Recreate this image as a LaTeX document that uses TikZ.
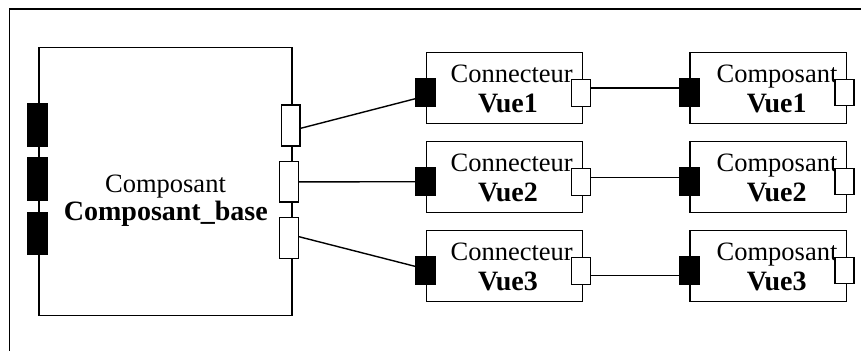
\documentclass[tikz,border=0pt]{standalone}
\usepackage{fontspec}
\setmainfont{Liberation Serif}
\begin{document}
\begin{tikzpicture}[x=1pt,y=-1pt,line width=1.4pt,
  comp/.style={draw,rectangle,inner sep=0pt,minimum width=#1},
  blk/.style={draw,fill=black,rectangle,inner sep=0pt,minimum width=19.5pt,minimum height=#1},
  wht/.style={draw,fill=white,rectangle,inner sep=0pt,minimum width=19pt,minimum height=#1},
  reg/.style={anchor=base,inner sep=0pt,font=\fontsize{26.5}{30}\selectfont},
  bld/.style={anchor=base,inner sep=0pt,font=\fontsize{28}{32}\bfseries},
  wire/.style={draw,line width=1.4pt}]
\useasboundingbox (0,0) rectangle (861,351);
% outer frame
\coordinate (fr1) at (861,9);
\coordinate (fr2) at (9.3,9);
\coordinate (fr3) at (9.3,351);
\draw (fr1) -- (fr2) -- (fr3);
% base component
\node[comp=253pt,minimum height=267.8pt] (base) at (165.5,181.6) {};
\node[reg] (baseT) at (165.5,192.3) {Composant};
\node[bld] (baseB) at (165.8,220.7) {Composant\_base};
\node[blk=42pt] (bl1) at (37.5,124.8) {};
\node[blk=42pt] (bl2) at (37.5,179) {};
\node[blk=41.5pt] (bl3) at (37.5,233.3) {};
\node[wht=41pt,minimum width=18.3pt] (bw1) at (290.8,125.5) {};
\node[wht=40.3pt] (bw2) at (288.8,181.9) {};
\node[wht=40.6pt] (bw3) at (288.8,238) {};
% rows
\foreach \i/\t in {1/52.7,2/141.7,3/230.7}{
  \node[comp=156pt,minimum height=71pt] (cn\i) at (504.7,\t+35.5) {};
  \node[reg] (cnT\i) at (511.7,\t+30) {Connecteur};
  \node[bld] (cnB\i) at (508,\t+60) {Vue\i};
  \node[blk=28pt] (cnb\i) at (425.8,\t+40) {};
  \node[wht=27pt] (cnw\i) at (581.2,\t+40) {};
  \node[comp=156.7pt,minimum height=71pt] (cp\i) at (768.3,\t+35.5) {};
  \node[reg] (cpT\i) at (777,\t+30) {Composant};
  \node[bld] (cpB\i) at (776.7,\t+60) {Vue\i};
  \node[blk=28pt] (cpb\i) at (689.2,\t+40) {};
  \node[wht=26pt] (cpw\i) at (844.5,\t+40) {};
}
% redraw ports on top of text
\foreach \i/\t in {1/52.7,2/141.7,3/230.7}{
  \node[wht=27pt] at (cnw\i) {};
  \node[wht=26pt] at (cpw\i) {};
}
% wires base -> connectors
\draw[wire] ([yshift=-2.8pt]bw1.east) -- ([yshift=-6pt]cnb1.west);
\draw[wire] (bw2.east) -- (cnb2.west);
\draw[wire] ([yshift=1.3pt]bw3.east) -- ([yshift=4.3pt]cnb3.west);
% wires connectors -> components
\draw[wire] ([yshift=4.7pt]cnw1.east) -- ([yshift=4.7pt]cpb1.west);
\draw[wire] ([yshift=4pt]cnw2.east) -- ([yshift=4pt]cpb2.west);
\draw[wire] ([yshift=-4.7pt]cnw3.east) -- ([yshift=-4.7pt]cpb3.west);
\end{tikzpicture}
\end{document}
